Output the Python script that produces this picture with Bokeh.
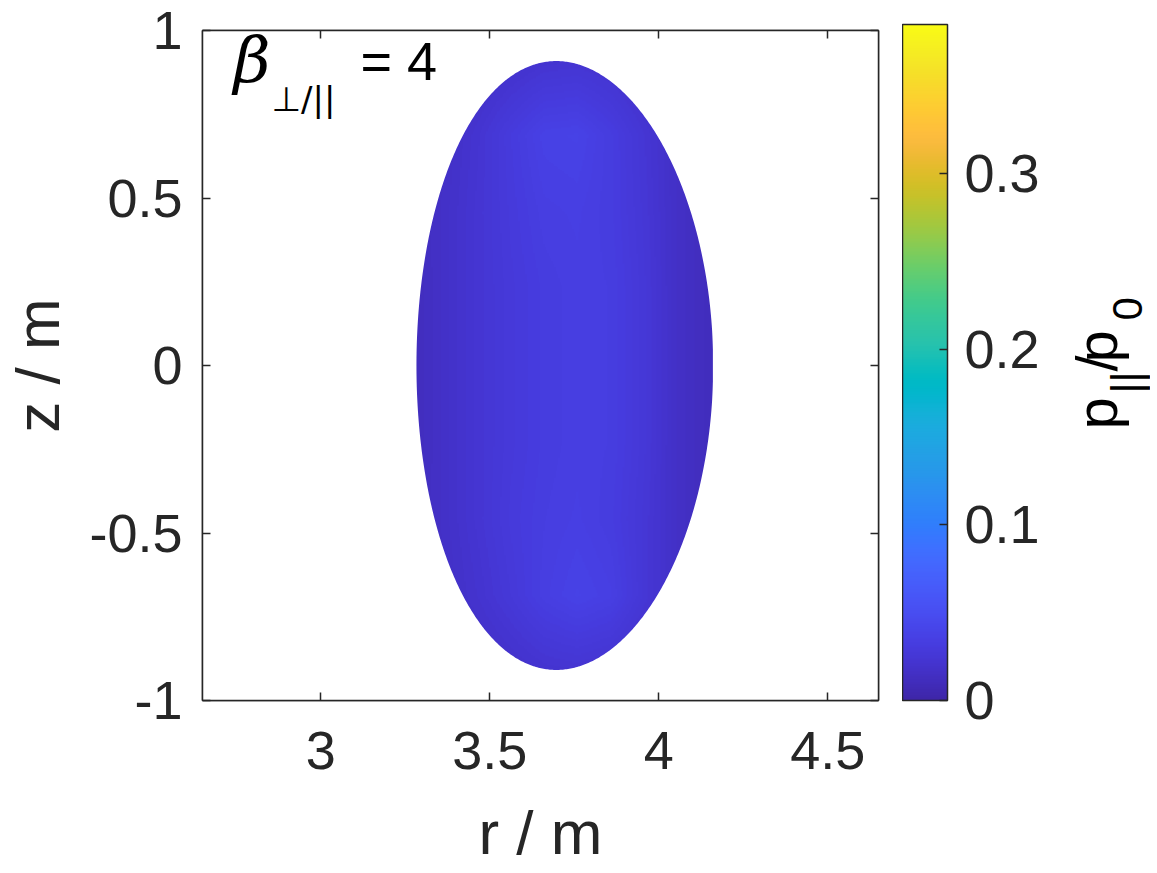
import math
import numpy as np
from bokeh.plotting import figure
from bokeh.layouts import row
from bokeh.models import (Range1d, FixedTicker, LinearAxis, LinearColorMapper,
                          ColorBar, Label)
from bokeh.embed import file_html
from bokeh.resources import INLINE

# ---------------- data ----------------
x_ticks = [3.0, 3.5, 4.0, 4.5]
x_tick_labels = ["3", "3.5", "4", "4.5"]
y_ticks = [-1.0, -0.5, 0.0, 0.5, 1.0]
y_tick_labels = ["-1", "-0.5", "0", "0.5", "1"]
c_ticks = [0.0, 0.1, 0.2, 0.3]
c_tick_labels = ["0", "0.1", "0.2", "0.3"]
x_lim = [2.65, 4.65]
y_lim = [-1.0, 1.0]
c_lim = [0.0, 0.385]

# plasma boundary shape: centre, minor radius, elongation, triangularity
R0 = 3.722
a_minor = 0.439
kappa = 2.07
delta = 0.057

# p_par / p0 at grid vertices (colours), rows = z, cols = r
r_grid = [3.26, 3.36, 3.46, 3.56, 3.66, 3.76, 3.86, 3.96, 4.06, 4.16]
z_grid = [-0.92, -0.69, -0.46, -0.23, 0.0, 0.23, 0.46, 0.69, 0.92]
p_par = [
    [0.012, 0.013, 0.015, 0.018, 0.021, 0.022, 0.020, 0.016, 0.013, 0.011],
    [0.012, 0.016, 0.021, 0.027, 0.034, 0.038, 0.035, 0.025, 0.016, 0.011],
    [0.012, 0.017, 0.023, 0.029, 0.033, 0.035, 0.032, 0.025, 0.016, 0.011],
    [0.011, 0.017, 0.023, 0.028, 0.032, 0.034, 0.033, 0.026, 0.016, 0.011],
    [0.011, 0.017, 0.023, 0.028, 0.032, 0.034, 0.033, 0.026, 0.016, 0.011],
    [0.011, 0.017, 0.023, 0.028, 0.032, 0.034, 0.033, 0.026, 0.016, 0.011],
    [0.012, 0.017, 0.023, 0.029, 0.034, 0.035, 0.032, 0.025, 0.016, 0.011],
    [0.012, 0.016, 0.022, 0.030, 0.037, 0.038, 0.032, 0.024, 0.016, 0.011],
    [0.012, 0.013, 0.015, 0.018, 0.021, 0.022, 0.020, 0.016, 0.013, 0.011],
]

# ---------------- style ----------------
PARULA64 = [
    (0.2422, 0.1504, 0.6603), (0.2504, 0.1650, 0.7076), (0.2578, 0.1818, 0.7511), (0.2647, 0.1978, 0.7952),
    (0.2706, 0.2147, 0.8364), (0.2751, 0.2342, 0.8710), (0.2783, 0.2559, 0.8991), (0.2803, 0.2782, 0.9221),
    (0.2813, 0.3006, 0.9414), (0.2810, 0.3228, 0.9579), (0.2795, 0.3447, 0.9717), (0.2760, 0.3667, 0.9829),
    (0.2699, 0.3892, 0.9906), (0.2602, 0.4123, 0.9952), (0.2440, 0.4358, 0.9988), (0.2206, 0.4603, 0.9973),
    (0.1963, 0.4847, 0.9892), (0.1834, 0.5074, 0.9798), (0.1786, 0.5289, 0.9682), (0.1764, 0.5499, 0.9520),
    (0.1687, 0.5703, 0.9359), (0.1540, 0.5902, 0.9218), (0.1460, 0.6091, 0.9079), (0.1380, 0.6276, 0.8973),
    (0.1248, 0.6459, 0.8883), (0.1113, 0.6635, 0.8763), (0.0952, 0.6798, 0.8598), (0.0689, 0.6948, 0.8394),
    (0.0297, 0.7082, 0.8163), (0.0036, 0.7203, 0.7917), (0.0067, 0.7312, 0.7660), (0.0433, 0.7411, 0.7394),
    (0.0964, 0.7500, 0.7120), (0.1408, 0.7584, 0.6842), (0.1717, 0.7670, 0.6554), (0.1938, 0.7758, 0.6251),
    (0.2161, 0.7843, 0.5923), (0.2470, 0.7918, 0.5567), (0.2906, 0.7973, 0.5188), (0.3406, 0.8008, 0.4789),
    (0.3909, 0.8029, 0.4354), (0.4456, 0.8024, 0.3909), (0.5044, 0.7993, 0.3480), (0.5616, 0.7942, 0.3045),
    (0.6174, 0.7876, 0.2612), (0.6720, 0.7793, 0.2227), (0.7242, 0.7698, 0.1910), (0.7738, 0.7598, 0.1646),
    (0.8203, 0.7498, 0.1535), (0.8634, 0.7406, 0.1596), (0.9035, 0.7330, 0.1774), (0.9393, 0.7288, 0.2100),
    (0.9728, 0.7298, 0.2394), (0.9956, 0.7434, 0.2371), (0.9970, 0.7659, 0.2199), (0.9952, 0.7893, 0.2028),
    (0.9892, 0.8136, 0.1885), (0.9786, 0.8386, 0.1766), (0.9676, 0.8639, 0.1643), (0.9610, 0.8890, 0.1537),
    (0.9597, 0.9135, 0.1423), (0.9628, 0.9373, 0.1265), (0.9691, 0.9606, 0.1064), (0.9769, 0.9839, 0.0805),
]
_tab = np.array(PARULA64)
palette = []
for s in np.linspace(0, 63, 256):
    rgb = [np.interp(s, np.arange(64), _tab[:, k]) for k in range(3)]
    palette.append("#%02x%02x%02x" % tuple(int(round(v * 255)) for v in rgb))

AX = "#262626"
FONT = "Liberation Sans"
TICK_FS = "54px"
LABEL_FS = "62px"
MID = 0.3465  # centre of the text box above the baseline, in em

# page geometry (pixels)
BL, BT, BR, BB = 193, 30, 24, 170
FW, FH = 676, 670
CB_W = 248          # width of the colour-bar figure
BAR_TOP, BAR_BOTTOM = 24, 700

p = figure(frame_width=FW, frame_height=FH,
           x_range=Range1d(*x_lim), y_range=Range1d(*y_lim),
           min_border_left=BL, min_border_top=BT, min_border_right=BR, min_border_bottom=BB,
           output_backend="svg", toolbar_location=None)
p.grid.visible = False
p.outline_line_color = AX
p.outline_line_width = 1.5
p.background_fill_color = "white"
p.border_fill_color = "white"

mapper = LinearColorMapper(palette=palette, low=c_lim[0], high=c_lim[1])

# field image, bilinear between the grid vertices (like MATLAB "shading interp")
nr, nz = 220, 440
r_f = np.linspace(r_grid[0], r_grid[-1], nr)
z_f = np.linspace(z_grid[0], z_grid[-1], nz)
tmp = np.array([np.interp(r_f, r_grid, row_) for row_ in p_par])
field = np.array([np.interp(z_f, z_grid, tmp[:, j]) for j in range(nr)]).T
p.image(image=[field], x=r_grid[0], y=z_grid[0],
        dw=r_grid[-1] - r_grid[0], dh=z_grid[-1] - z_grid[0], color_mapper=mapper)

# white mask outside the plasma boundary
th = np.linspace(0, 2 * np.pi, 721)
rb = R0 + a_minor * np.cos(th + math.asin(delta) * np.sin(th))
zb = kappa * a_minor * np.sin(th)
ox = [x_lim[0], x_lim[1], x_lim[1], x_lim[0]]
oy = [y_lim[0], y_lim[0], y_lim[1], y_lim[1]]
p.multi_polygons(xs=[[[ox, list(rb)]]], ys=[[[oy, list(zb)]]],
                 fill_color="white", line_color=None)


def style_axis(ax, ticks, labels, show_labels=True):
    ax.ticker = FixedTicker(ticks=ticks)
    ax.major_label_overrides = {t: (l if show_labels else "") for t, l in zip(ticks, labels)}
    ax.major_tick_in = 8
    ax.major_tick_out = 0
    ax.minor_tick_in = 0
    ax.minor_tick_out = 0
    ax.axis_line_color = AX
    ax.axis_line_width = 1.5
    ax.major_tick_line_color = AX
    ax.major_tick_line_width = 1.5
    ax.major_label_text_color = AX
    ax.major_label_text_font = FONT
    ax.major_label_text_font_size = TICK_FS if show_labels else "1px"
    ax.axis_label_text_font = FONT
    ax.axis_label_text_font_size = LABEL_FS
    ax.axis_label_text_font_style = "normal"
    ax.axis_label_text_color = AX


xa = p.xaxis[0]
style_axis(xa, x_ticks, x_tick_labels)
xa.major_label_standoff = 31
xa.axis_label = "r / m"
xa.axis_label_standoff = 26

ya = p.yaxis[0]
style_axis(ya, y_ticks, y_tick_labels)
ya.major_label_standoff = 20
ya.axis_label = "z / m"
ya.axis_label_standoff = 14

top = LinearAxis()
style_axis(top, x_ticks, x_tick_labels, show_labels=False)
top.major_label_standoff = 0
p.add_layout(top, "above")
right = LinearAxis()
style_axis(right, y_ticks, y_tick_labels, show_labels=False)
right.major_label_standoff = 0
p.add_layout(right, "right")


def r_at(px):
    fx = px - 8
    return x_lim[0] + (fx - BL) / FW * (x_lim[1] - x_lim[0])


def z_at(py):
    return y_lim[1] - (py - BT) / FH * (y_lim[1] - y_lim[0])


def lab(fig, text, x, y, size, font=FONT, style="normal", angle=0.0):
    fig.add_layout(Label(x=x, y=y, text=text, text_font=font,
                         text_font_style=style, text_font_size="%dpx" % size, text_color="black",
                         text_align="left", text_baseline="middle", angle=angle))


# beta annotation (page x, baseline y -> centre of text box)
lab(p, "β", r_at(232), z_at(82 - MID * 64), 64, font="DejaVu Serif", style="italic")
lab(p, "⊥/||", r_at(270), z_at(110 - MID * 34), 34, font="DejaVu Sans")
lab(p, "= 4", r_at(359), z_at(79 - MID * 54), 54)

# ---------------- colour bar figure (frame aligned with the main frame) ----------------
q = figure(frame_width=CB_W, frame_height=FH, x_range=Range1d(0, CB_W), y_range=Range1d(0, FH),
           min_border_left=0, min_border_right=0, min_border_top=BT, min_border_bottom=BB,
           x_axis_location=None, y_axis_location=None,
           output_backend="svg", toolbar_location=None)
q.grid.visible = False
q.outline_line_color = None
q.background_fill_color = "white"
q.border_fill_color = "white"

cb = ColorBar(color_mapper=mapper, ticker=FixedTicker(ticks=c_ticks),
              major_label_overrides={t: l for t, l in zip(c_ticks, c_tick_labels)},
              location=(0, (BT + FH) - BAR_BOTTOM), width=45, height=BAR_BOTTOM - BAR_TOP,
              padding=0, margin=0, orientation="vertical",
              bar_line_color=AX, bar_line_width=1.5,
              major_tick_in=8, major_tick_out=0, major_tick_line_color=AX, major_tick_line_width=1.5,
              minor_tick_line_color=None,
              major_label_text_font=FONT, major_label_text_font_size=TICK_FS,
              major_label_text_color=AX, label_standoff=17,
              background_fill_alpha=0, border_line_color=None)
q.add_layout(cb, "center")

X0 = 901  # page x of the colour-bar figure's left edge
up = math.pi / 2


def qlab(text, base_px, start_py, size):
    # rotated text reading upwards; baseline at page x base_px, starting at page y start_py
    lab(q, text, base_px - MID * size - X0, (BT + FH) - start_py, size, angle=up)


qlab("p", 1115, 429, 58)
qlab("||", 1140, 393, 42)
qlab("/", 1115, 371, 58)
qlab("p", 1115, 362, 58)
qlab("0", 1141, 320, 42)

layout = row(p, q)
open("out.html", "w").write(file_html(layout, INLINE))
